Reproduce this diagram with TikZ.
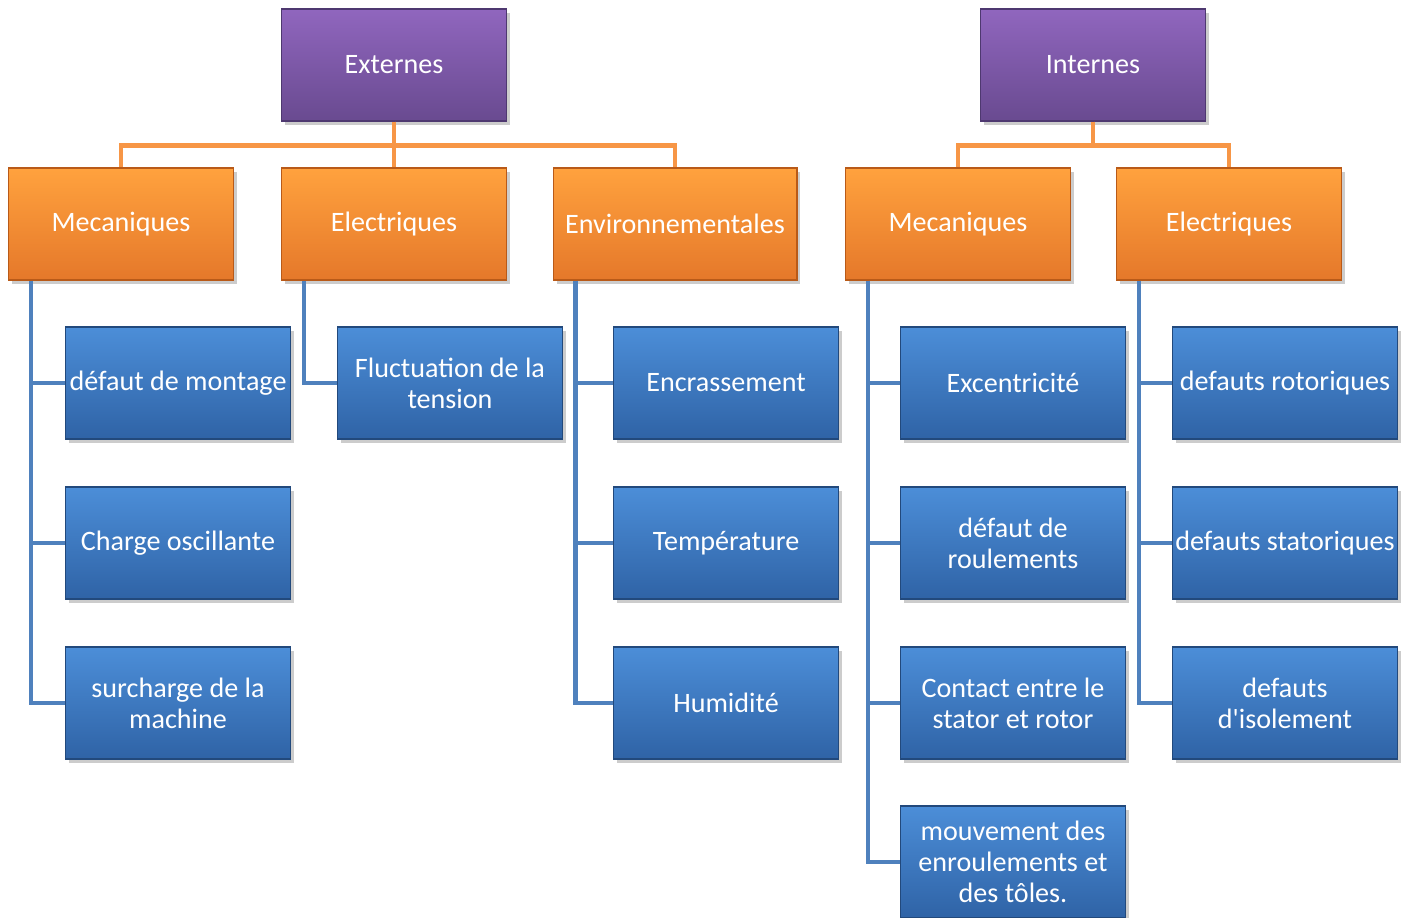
\documentclass[tikz,border=0pt]{standalone}
\usepackage{fontspec}
\setmainfont{Carlito}
\usetikzlibrary{shadows}
\definecolor{purpletop}{HTML}{9066BE}
\definecolor{purplebot}{HTML}{694A90}
\definecolor{purpleedge}{HTML}{4E3870}
\definecolor{orangetop}{HTML}{FFA23E}
\definecolor{orangebot}{HTML}{E5782A}
\definecolor{orangeedge}{HTML}{B95A18}
\definecolor{bluetop}{HTML}{4C8ED8}
\definecolor{bluebot}{HTML}{2F63A6}
\definecolor{blueedge}{HTML}{22497C}
\definecolor{lineorange}{HTML}{F79646}
\definecolor{lineblue}{HTML}{4F81BD}

\begin{document}
\begin{tikzpicture}[x=0.02cm,y=-0.02cm,font=\fontsize{16}{17.6}\selectfont,
  box/.style={rectangle,minimum width=4.5cm,minimum height=2.24cm,inner xsep=1pt,
    align=center,text=white,line width=0.6pt,
    drop shadow={opacity=0.4,shadow xshift=2pt,shadow yshift=-2pt}},
  groupbox/.style={box,top color=purpletop,bottom color=purplebot,draw=purpleedge},
  catbox/.style={box,top color=orangetop,bottom color=orangebot,draw=orangeedge},
  itembox/.style={box,top color=bluetop,bottom color=bluebot,draw=blueedge},
  orangeline/.style={draw=lineorange,line width=2.8pt},
  blueline/.style={draw=lineblue,line width=2.8pt}]
  \useasboundingbox (0,0) rectangle (1410,917);
  % top level
  \node[groupbox] (ext) at (394,65) {Externes};
  \node[groupbox] (int) at (1093,65) {Internes};
  % categories
  \node[catbox] (emec) at (121,224) {Mecaniques};
  \node[catbox] (eelec) at (394,224) {Electriques};
  \node[catbox,minimum width=4.88cm] (eenv) at (675,224) {Environnementales};
  \node[catbox] (imec) at (958,224) {Mecaniques};
  \node[catbox] (ielec) at (1229,224) {Electriques};
  % externes / mecaniques
  \node[itembox] (montage) at (178,383) {défaut de montage};
  \node[itembox] (charge) at (178,543) {Charge oscillante};
  \node[itembox] (surcharge) at (178,703) {surcharge de la\\machine};
  % externes / electriques
  \node[itembox] (tension) at (450,383) {Fluctuation de la\\tension};
  % externes / environnementales
  \node[itembox] (encr) at (726,383) {Encrassement};
  \node[itembox] (temp) at (726,543) {Température};
  \node[itembox] (humid) at (726,703) {Humidité};
  % internes / mecaniques
  \node[itembox] (excent) at (1013,383) {Excentricité};
  \node[itembox] (roul) at (1013,543) {défaut de\\roulements};
  \node[itembox] (contact) at (1013,703) {Contact entre le\\stator et rotor};
  \node[itembox] (mouv) at (1013,862) {mouvement des\\enroulements et\\des tôles.};
  % internes / electriques
  \node[itembox] (rotor) at (1285,383) {defauts rotoriques};
  \node[itembox] (stator) at (1285,543) {defauts statoriques};
  \node[itembox] (isol) at (1285,703) {defauts\\d\textquotesingle isolement};

  % orange links
  \draw[orangeline] (ext.south) -- ++(0,24) -| (emec.north);
  \draw[orangeline] (ext.south) -- (eelec.north);
  \draw[orangeline] (ext.south) -- ++(0,24) -| (eenv.north);
  \draw[orangeline] (int.south) -- ++(0,24) -| (imec.north);
  \draw[orangeline] (int.south) -- ++(0,24) -| (ielec.north);
  % blue links
  \draw[blueline] ([xshift=0.46cm]emec.south west) |- (montage.west);
  \draw[blueline] ([xshift=0.46cm]emec.south west) |- (charge.west);
  \draw[blueline] ([xshift=0.46cm]emec.south west) |- (surcharge.west);
  \draw[blueline] ([xshift=0.46cm]eelec.south west) |- (tension.west);
  \draw[blueline] ([xshift=0.46cm]eenv.south west) |- (encr.west);
  \draw[blueline] ([xshift=0.46cm]eenv.south west) |- (temp.west);
  \draw[blueline] ([xshift=0.46cm]eenv.south west) |- (humid.west);
  \draw[blueline] ([xshift=0.46cm]imec.south west) |- (excent.west);
  \draw[blueline] ([xshift=0.46cm]imec.south west) |- (roul.west);
  \draw[blueline] ([xshift=0.46cm]imec.south west) |- (contact.west);
  \draw[blueline] ([xshift=0.46cm]imec.south west) |- (mouv.west);
  \draw[blueline] ([xshift=0.46cm]ielec.south west) |- (rotor.west);
  \draw[blueline] ([xshift=0.46cm]ielec.south west) |- (stator.west);
  \draw[blueline] ([xshift=0.46cm]ielec.south west) |- (isol.west);
\end{tikzpicture}
\end{document}
